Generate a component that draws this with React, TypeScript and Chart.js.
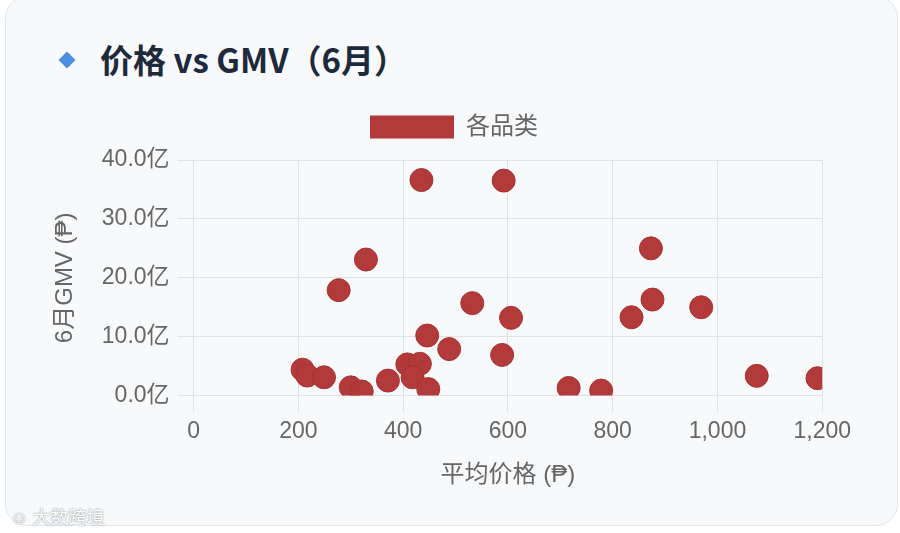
import React, { useEffect, useRef } from "react";
import { Chart, registerables } from "chart.js";

Chart.register(...registerables);

const prices: number[] = [435, 592, 329, 277, 532, 606, 589, 446, 488, 208, 217, 249, 300, 321, 371, 408, 432, 418, 448, 873, 876, 836, 969, 716, 778, 1075, 1191];
const gmv: number[] = [36.6, 36.5, 23.1, 17.9, 15.7, 13.2, 6.9, 10.2, 7.9, 4.4, 3.4, 3.1, 1.4, 0.7, 2.55, 5.3, 5.4, 3.1, 1.1, 25.0, 16.3, 13.3, 15.0, 1.3, 0.85, 3.35, 2.95];

const seriesLabel = "各品类";
const titleText = "价格 vs GMV（6月）";
const xTitle = "平均价格 (₱)";
const yTitle = "6月GMV (₱)";
const xTicks = { min: 0, max: 1200, step: 200 };
const yTicks = { min: 0, max: 40, step: 10 };

const pointColor = "#b23a3a";
const font = "'Liberation Sans', Arial, 'Noto Sans CJK SC', sans-serif";

const legendMargin = {
  id: "legendMargin",
  beforeInit(chart: any) {
    const orig = chart.legend.fit;
    chart.legend.fit = function () {
      orig.bind(chart.legend)();
      this.height += 11;
    };
  },
};

export default function App() {
  const ref = useRef<HTMLCanvasElement | null>(null);

  useEffect(() => {
    if (!ref.current) return;
    const chart = new Chart(ref.current, {
      type: "scatter",
      data: {
        datasets: [
          {
            label: seriesLabel,
            data: prices.map((p, i) => ({ x: p, y: gmv[i] })),
            backgroundColor: pointColor,
            borderColor: "#a63333",
            borderWidth: 1,
            pointRadius: 11.5,
            pointHoverRadius: 11.5,
          },
        ],
      },
      plugins: [legendMargin],
      options: {
        animation: false,
        responsive: true,
        maintainAspectRatio: false,
        layout: { padding: 0 },
        plugins: {
          legend: {
            display: true,
            labels: {
              boxWidth: 84,
              boxHeight: 23,
              color: "#666",
              padding: 12,
              font: { size: 24, family: font },
              generateLabels: () => [
                {
                  text: seriesLabel,
                  fillStyle: pointColor,
                  strokeStyle: pointColor,
                  fontColor: "#666",
                  lineWidth: 0,
                  hidden: false,
                  datasetIndex: 0,
                },
              ],
            },
          },
          tooltip: { enabled: false },
        },
        scales: {
          x: {
            type: "linear",
            min: xTicks.min,
            max: xTicks.max,
            ticks: {
              stepSize: xTicks.step,
              color: "#666",
              padding: 6,
              font: { size: 23, family: font },
              callback: (v: any) => Number(v).toLocaleString("en-US"),
            },
            grid: { color: "#dfe1e5", tickLength: 16 },
            border: { color: "#dfe1e5" },
            title: {
              display: true,
              text: xTitle,
              color: "#666",
              font: { size: 24, family: font },
              padding: { top: 10, bottom: 0 },
            },
          },
          y: {
            type: "linear",
            min: yTicks.min,
            max: yTicks.max,
            ticks: {
              stepSize: yTicks.step,
              color: "#666",
              padding: 8,
              font: { size: 23, family: font },
              callback: (v: any) => Number(v).toFixed(1) + "亿",
            },
            grid: { color: "#dfe1e5", tickLength: 16 },
            border: { color: "#dfe1e5" },
            title: {
              display: true,
              text: yTitle,
              color: "#666",
              font: { size: 24, family: font },
              padding: { top: 0, bottom: 14 },
            },
          },
        },
      },
    });
    return () => chart.destroy();
  }, []);

  return (
    <div style={{ position: "fixed", left: 0, top: 0, width: 900, height: 533, background: "#fff", overflow: "hidden" }}>
      <div
        style={{
          position: "absolute",
          left: 5,
          top: -4,
          width: 893,
          height: 530,
          background: "#f8f9fb",
          border: "1px solid #e4e6ea",
          borderRadius: 22,
          boxSizing: "border-box",
        }}
      />
      <div
        style={{
          position: "absolute",
          left: 61,
          top: 54,
          width: 12,
          height: 12,
          background: "#4a8fe0",
          transform: "rotate(45deg)",
        }}
      />
      <div
        style={{
          position: "absolute",
          left: 100,
          top: 36,
          fontFamily: "'Noto Sans CJK SC', 'Noto Sans', sans-serif",
          fontWeight: 700,
          fontSize: 33,
          lineHeight: "46px",
          color: "#1e2a3b",
          whiteSpace: "nowrap",
        }}
      >
        {titleText}
      </div>
      <div style={{ position: "absolute", left: 51, top: 103, width: 806, height: 387 }}>
        <canvas ref={ref} />
      </div>
      <div
        style={{
          position: "absolute",
          left: 10,
          top: 503,
          fontFamily: "'Noto Sans CJK SC', sans-serif",
          fontSize: 18,
          color: "#ffffff",
          textShadow: "0 0 2px #9aa0a8, 0 0 1px #9aa0a8",
          whiteSpace: "nowrap",
        }}
      >
        ☺ 大数跨境
      </div>
    </div>
  );
}
